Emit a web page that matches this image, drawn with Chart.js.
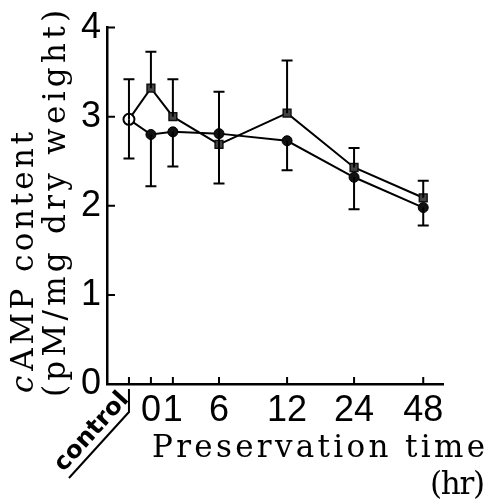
<!DOCTYPE html>
<html>
<head>
<meta charset="utf-8">
<script src="https://cdn.jsdelivr.net/npm/chart.js@4.4.1/dist/chart.umd.min.js"></script>
<style>
    html, body { margin: 0; padding: 0; background: #fff; }
    #wrap { width: 491px; height: 504px; position: relative; }
</style>
</head>
<body>
<div id="wrap"><canvas id="camp"></canvas></div>
<script>
// x-axis: broken time axis, each label sits on its own slot
const timeLabels = ['control', '0', '1', '6', '12', '24', '48']
const xSlots = [0, 1, 2, 4.1, 7.2, 10.25, 13.4]

// control value (open circle), shared start of both lines
const controlMean = 2.97
const controlHigh = 3.42
const controlLow = 2.53

// squares (upper error bars)
const squareMeans = [3.32, 3.0, 2.69, 3.04, 2.43, 2.09]
const squareHigh = [3.73, 3.42, 3.28, 3.63, 2.65, 2.28]

// circles (lower error bars)
const circleMeans = [2.8, 2.83, 2.81, 2.73, 2.32, 1.98]
const circleLow = [2.22, 2.44, 2.25, 2.4, 1.96, 1.78]

const yTicks = [0, 1, 2, 3, 4]

const serif = '"DejaVu Serif", "Liberation Serif", serif'
const sans = '"Liberation Sans Narrow", "Liberation Sans", Arial, sans-serif'

function toPoints(means) {
    const pts = [{ x: xSlots[0], y: controlMean }]
    means.forEach((v, i) => pts.push({ x: xSlots[i + 1], y: v }))
    return pts
}

// spread text so it covers a given width
function spreadText(ctx, text, x, y, width) {
    ctx.letterSpacing = '0px'
    const w = ctx.measureText(text).width
    const sp = text.length > 1 ? (width - w) / (text.length - 1) : 0
    ctx.letterSpacing = sp + 'px'
    ctx.fillText(text, x, y)
    ctx.letterSpacing = '0px'
    return sp
}

// error bars drawn through the y scale
const errorBars = {
    id: 'errorBars',
    afterDatasetsDraw(chart) {
        const ctx = chart.ctx
        const xs = chart.scales.x
        const ys = chart.scales.y
        const cap = 5.5
        const bar = (x, v1, v2) => {
            const px = xs.getPixelForValue(x)
            const p1 = ys.getPixelForValue(v1)
            const p2 = ys.getPixelForValue(v2)
            ctx.beginPath()
            ctx.moveTo(px, p1)
            ctx.lineTo(px, p2)
            ctx.moveTo(px - cap, p2)
            ctx.lineTo(px + cap, p2)
            ctx.stroke()
        }
        ctx.save()
        ctx.strokeStyle = '#000'
        ctx.lineWidth = 2
        bar(xSlots[0], controlMean, controlHigh)
        bar(xSlots[0], controlMean, controlLow)
        squareMeans.forEach((v, i) => bar(xSlots[i + 1], v, squareHigh[i]))
        circleMeans.forEach((v, i) => bar(xSlots[i + 1], v, circleLow[i]))
        ctx.restore()
    }
}

// inward ticks, titles and the slanted "control" label
const decorations = {
    id: 'decorations',
    afterDraw(chart) {
        const ctx = chart.ctx
        const xs = chart.scales.x
        const ys = chart.scales.y
        const area = chart.chartArea
        ctx.save()
        ctx.strokeStyle = '#000'
        ctx.lineWidth = 2
        ctx.beginPath()
        yTicks.forEach((t) => {
            const py = ys.getPixelForValue(t)
            ctx.moveTo(area.left, py)
            ctx.lineTo(area.left + 8, py)
        })
        xSlots.forEach((s) => {
            const px = xs.getPixelForValue(s)
            ctx.moveTo(px, area.bottom)
            ctx.lineTo(px, area.bottom - 7)
        })
        ctx.stroke()

        // divider under control
        const cx = xs.getPixelForValue(xSlots[0])
        ctx.beginPath()
        ctx.moveTo(cx, area.bottom + 5)
        ctx.lineTo(cx, area.bottom + 28)
        ctx.lineTo(cx - 60, area.bottom + 94)
        ctx.stroke()

        ctx.fillStyle = '#000'
        // control label
        ctx.save()
        ctx.translate(cx - 37, area.bottom + 48)
        ctx.rotate(-Math.atan2(66, 60))
        ctx.font = 'bold 24px "Liberation Sans Narrow", "DejaVu Sans Condensed", sans-serif'
        ctx.textAlign = 'center'
        ctx.textBaseline = 'middle'
        const cw = ctx.measureText('control').width
        ctx.scale(98 / cw, 1)
        ctx.fillText('control', 0, 0)
        ctx.restore()

        // x title
        ctx.font = '31px ' + serif
        ctx.textAlign = 'left'
        ctx.textBaseline = 'alphabetic'
        spreadText(ctx, 'Preservation time', 152, 457, 333)
        spreadText(ctx, '(hr)', 430, 494, 55)

        // y title, two rotated lines
        ctx.save()
        ctx.translate(33, 393)
        ctx.rotate(-Math.PI / 2)
        ctx.font = 'italic 31px ' + serif
        ctx.fillText('c', 0, 0)
        const cW = ctx.measureText('c').width
        ctx.font = '31px ' + serif
        spreadText(ctx, 'AMP content', cW + 5, 0, 261 - cW - 5)
        ctx.restore()

        ctx.save()
        ctx.translate(65, 397)
        ctx.rotate(-Math.PI / 2)
        ctx.font = '31px ' + serif
        spreadText(ctx, '(pM/mg dry weight)', 0, 0, 387)
        ctx.restore()
        ctx.restore()
    }
}

new Chart(document.getElementById('camp'), {
    type: 'line',
    data: {
        datasets: [
            {
                label: 'control',
                data: [{ x: xSlots[0], y: controlMean }],
                pointStyle: 'circle',
                pointRadius: 5.5,
                pointBackgroundColor: '#fff',
                pointBorderColor: '#000',
                pointBorderWidth: 2,
                showLine: false,
                order: 0
            },
            {
                label: 'squares',
                data: toPoints(squareMeans),
                borderColor: '#000',
                borderWidth: 2,
                pointStyle: 'rect',
                pointRadius: [0, 5.5, 5.5, 5.5, 5.5, 5.5, 5.5],
                pointBackgroundColor: '#444',
                pointBorderColor: '#111',
                pointBorderWidth: 1.5,
                order: 1
            },
            {
                label: 'circles',
                data: toPoints(circleMeans),
                borderColor: '#000',
                borderWidth: 2,
                pointStyle: 'circle',
                pointRadius: [0, 5, 5, 5, 5, 5, 5],
                pointBackgroundColor: '#111',
                pointBorderColor: '#000',
                pointBorderWidth: 1,
                order: 2
            }
        ]
    },
    options: {
        responsive: true,
        maintainAspectRatio: false,
        animation: false,
        layout: { padding: { left: 0, right: 48, top: 24, bottom: 0 } },
        plugins: {
            legend: { display: false },
            tooltip: { enabled: false }
        },
        scales: {
            x: {
                type: 'linear',
                min: -1.0,
                max: 14.3,
                afterFit: (s) => { s.height = 120 },
                afterBuildTicks: (s) => {
                    s.ticks = xSlots.map((v) => ({ value: v }))
                },
                grid: { display: false, drawTicks: false },
                border: { display: true, color: '#000', width: 2.5 },
                ticks: {
                    autoSkip: false,
                    maxRotation: 0,
                    padding: 5,
                    color: '#000',
                    font: { family: sans, size: 36 },
                    callback: (v) => {
                        const i = xSlots.indexOf(v)
                        return i > 0 ? timeLabels[i] : ''
                    }
                }
            },
            y: {
                min: 0,
                max: 4,
                afterFit: (s) => { s.width = 107 },
                afterBuildTicks: (s) => {
                    s.ticks = yTicks.map((v) => ({ value: v }))
                },
                grid: { display: false, drawTicks: false },
                border: { display: true, color: '#000', width: 2.5 },
                ticks: {
                    padding: 6,
                    color: '#000',
                    font: { family: sans, size: 36 }
                }
            }
        }
    },
    plugins: [errorBars, decorations]
})
</script>
</body>
</html>
